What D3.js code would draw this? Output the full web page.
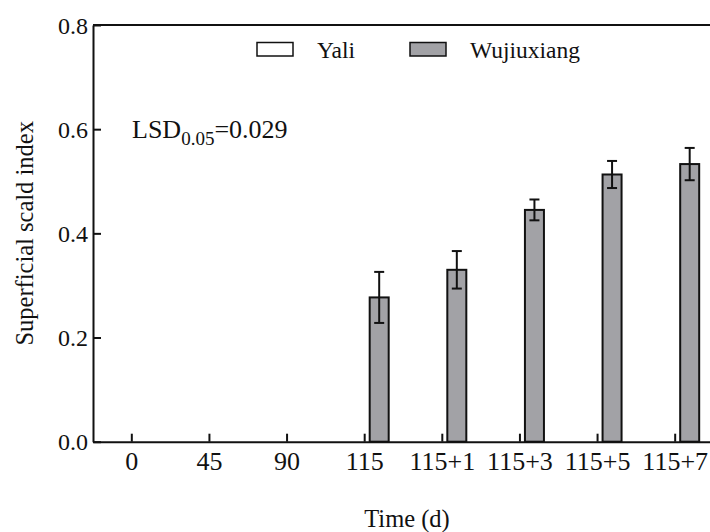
<!DOCTYPE html>
<html>
<head>
<meta charset="utf-8">
<script src="https://cdn.jsdelivr.net/npm/d3@7"></script>
<style>
  body { margin: 0; background: #fff; }
  svg text { font-family: "Liberation Serif", "Times New Roman", Times, serif; fill: #111; }
</style>
</head>
<body>
<svg id="chart" width="710" height="532"></svg>
<script>
// data
var categories = ["0", "45", "90", "115", "115+1", "115+3", "115+5", "115+7"];
var seriesNames = ["Yali", "Wujiuxiang"];
var yaliValues = [0, 0, 0, 0, 0, 0, 0, 0];
var yaliErrors = [0, 0, 0, 0, 0, 0, 0, 0];
var wujiuValues = [0, 0, 0, 0.277, 0.330, 0.445, 0.513, 0.533];
var wujiuErrors = [0, 0, 0, 0.049, 0.036, 0.020, 0.026, 0.031];
var yTicks = [0, 0.2, 0.4, 0.6, 0.8];
var lsdText = "=0.029";

var svg = d3.select("svg#chart");
var plotLeft = 93, plotRight = 714, plotTop = 25, plotBottom = 441.7;
var barFills = { "Yali": "#ffffff", "Wujiuxiang": "#a2a2a6" };
var serif = "'Liberation Serif', 'Times New Roman', serif";

var x = d3.scaleBand().domain(categories).range([plotLeft, plotRight]);
var xs = d3.scaleBand().domain(seriesNames).range([-24, 24]).paddingInner(0.345);
var y = d3.scaleLinear().domain([0, 0.8]).range([plotBottom, plotTop]);

var rows = [];
categories.forEach(function(c, i) {
  rows.push({ cat: c, name: "Yali", v: yaliValues[i], e: yaliErrors[i] });
  rows.push({ cat: c, name: "Wujiuxiang", v: wujiuValues[i], e: wujiuErrors[i] });
});

// bars
svg.append("g").selectAll("rect")
  .data(rows)
  .join("rect")
    .attr("x", function(d) { return x(d.cat) + x.bandwidth()/2 + xs(d.name); })
    .attr("y", function(d) { return y(d.v); })
    .attr("width", xs.bandwidth())
    .attr("height", function(d) { return y(0) - y(d.v); })
    .attr("fill", function(d) { return barFills[d.name]; })
    .attr("stroke", "#111")
    .attr("stroke-width", 2);

// error bars
var errRows = rows.filter(function(d) { return d.e > 0; });
var eg = svg.append("g").attr("stroke", "#111").attr("stroke-width", 2);
errRows.forEach(function(d) {
  var cx = x(d.cat) + x.bandwidth()/2 + xs(d.name) + xs.bandwidth()/2;
  eg.append("line").attr("x1", cx).attr("x2", cx).attr("y1", y(d.v - d.e)).attr("y2", y(d.v + d.e));
  eg.append("line").attr("x1", cx - 5).attr("x2", cx + 5).attr("y1", y(d.v - d.e)).attr("y2", y(d.v - d.e));
  eg.append("line").attr("x1", cx - 5).attr("x2", cx + 5).attr("y1", y(d.v + d.e)).attr("y2", y(d.v + d.e));
});

// axes
var yAxis = svg.append("g")
  .attr("transform", "translate(" + plotLeft + ",0)")
  .call(d3.axisLeft(y).tickValues(yTicks).tickFormat(d3.format(".1f")).tickSize(-8).tickSizeOuter(0).tickPadding(5));
var xAxis = svg.append("g")
  .attr("transform", "translate(0," + plotBottom + ")")
  .call(d3.axisBottom(x).tickSize(-8).tickSizeOuter(0).tickPadding(10));
[yAxis, xAxis].forEach(function(a) {
  a.attr("font-family", serif);
  a.selectAll("path, line").attr("stroke", "#111").attr("stroke-width", 2);
  a.selectAll("text").attr("fill", "#111");
});
yAxis.selectAll("text").style("font-size", "24px").attr("dy", "0.34em");
xAxis.selectAll("text").style("font-size", "26px");

// top frame line
svg.append("line")
  .attr("x1", plotLeft).attr("x2", plotRight).attr("y1", plotTop).attr("y2", plotTop)
  .attr("stroke", "#111").attr("stroke-width", 2);

// axis titles
svg.append("text")
  .attr("transform", "rotate(-90)")
  .attr("x", -(plotTop + plotBottom)/2).attr("y", 33)
  .attr("text-anchor", "middle")
  .style("font-size", "24.5px")
  .text("Superficial scald index");
svg.append("text")
  .attr("x", 407).attr("y", 527)
  .attr("text-anchor", "middle")
  .style("font-size", "24.5px")
  .text("Time (d)");

// LSD note
var lsd = svg.append("text").attr("x", 132).attr("y", 138).style("font-size", "26px");
lsd.append("tspan").text("LSD");
lsd.append("tspan").attr("dy", 7).style("font-size", "19px").text("0.05");
lsd.append("tspan").attr("dy", -7).text(lsdText);

// legend
var legendX = [257, 410];
seriesNames.forEach(function(name, i) {
  svg.append("rect")
    .attr("x", legendX[i]).attr("y", 42.5).attr("width", 36).attr("height", 13.5)
    .attr("fill", barFills[name]).attr("stroke", "#111").attr("stroke-width", 1.5);
  svg.append("text")
    .attr("x", legendX[i] + 60).attr("y", 57.5)
    .style("font-size", "23.5px")
    .text(name);
});
</script>
</body>
</html>
